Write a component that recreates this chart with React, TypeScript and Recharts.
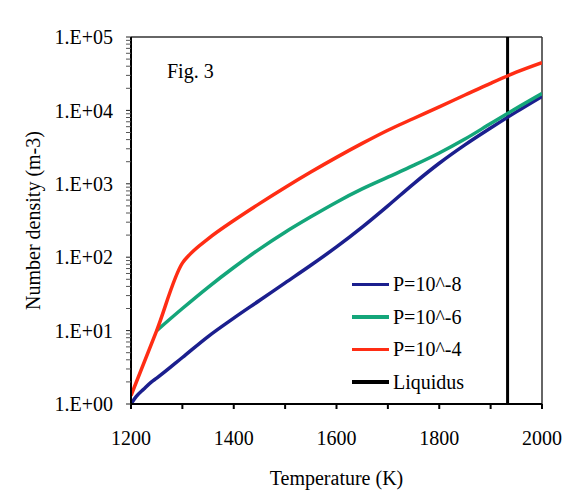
import React from "react";
import { LineChart, Line, XAxis, YAxis, ReferenceLine, Label } from "recharts";

// temperatures (K) and number densities (m-3)
const lowTemps = [1200, 1210, 1225, 1240, 1250, 1300, 1350, 1400, 1450, 1500, 1550, 1600, 1650, 1700, 1750, 1800, 1850, 1900, 1950, 2000];
const lowDensity = [1.0, 1.26, 1.6, 2.0, 2.25, 4.3, 8.3, 14.8, 25.7, 44.7, 77.6, 138, 257, 501, 1000, 1905, 3390, 5750, 9550, 15500];

const midTemps = [1250, 1300, 1350, 1400, 1450, 1500, 1550, 1600, 1650, 1700, 1750, 1800, 1850, 1900, 1950, 2000];
const midDensity = [10, 20, 38.9, 72.4, 129, 219, 355, 562, 851, 1230, 1780, 2630, 4070, 6610, 10700, 17000];

const highTemps = [1200, 1250, 1300, 1315, 1350, 1400, 1450, 1500, 1550, 1600, 1650, 1700, 1750, 1800, 1850, 1900, 1950, 2000];
const highDensity = [1.3, 10, 83, 110, 178, 316, 537, 891, 1445, 2290, 3550, 5370, 7760, 11200, 16200, 23400, 33100, 44700];

const liquidusTemp = 1933;

const seriesNames = ["P=10^-8", "P=10^-6", "P=10^-4", "Liquidus"];
const seriesColors = ["#1b1f8e", "#14a67a", "#ff2d14", "#000000"];

const xTicks = [1200, 1300, 1400, 1500, 1600, 1700, 1800, 1900, 2000];
const xLabels = ["1200", "1400", "1600", "1800", "2000"];
const yMajor = [1, 10, 100, 1000, 10000, 100000];
const yLabels = ["1.E+00", "1.E+01", "1.E+02", "1.E+03", "1.E+04", "1.E+05"];
const minorSteps = [2, 3, 4, 5, 6, 7, 8, 9];

const yTicks: number[] = [];
yMajor.forEach((m, i) => {
  yTicks.push(m);
  if (i < yMajor.length - 1) minorSteps.forEach((s) => yTicks.push(m * s));
});

const zip = (ts: number[], vs: number[]) => ts.map((t, i) => ({ t, v: vs[i] }));
const lowData = zip(lowTemps, lowDensity);
const midData = zip(midTemps, midDensity);
const highData = zip(highTemps, highDensity);

const serif = "serif";
const TICK_MARGIN = 13;
const TICK_LEN = 5;

// y tick: draws its own mark so the minor log ticks always show
function YTick(props: any) {
  const { x, y, payload } = props;
  const i = yMajor.indexOf(payload.value);
  const ax = x + TICK_MARGIN;
  return (
    <g>
      <line x1={ax} x2={ax + TICK_LEN} y1={y} y2={y} stroke={i >= 0 ? "#222" : "#555"} strokeWidth={1} />
      {i >= 0 && (
        <text x={x} y={y} dy="0.355em" textAnchor="end" fontFamily={serif} fontSize={20} fill="#000">
          {yLabels[i]}
        </text>
      )}
    </g>
  );
}

function LegendBox() {
  return (
    <div style={{ position: "absolute", left: 352, top: 268, fontFamily: serif, fontSize: 20, color: "#000" }}>
      {seriesNames.map((name, i) => (
        <div key={name} style={{ display: "flex", alignItems: "center", height: 32.6 }}>
          <div style={{ width: 37, height: 3.5, background: seriesColors[i], marginRight: 4 }} />
          <span style={{ lineHeight: "32.6px" }}>{name}</span>
        </div>
      ))}
    </div>
  );
}

export default function App() {
  return (
    <div style={{ position: "absolute", left: 0, top: 0, width: 581, height: 500, background: "#fff" }}>
      <LineChart width={581} height={500} margin={{ top: 37, right: 39, left: 0, bottom: 6 }}>
        <XAxis
          type="number"
          dataKey="t"
          domain={[1200, 2000]}
          ticks={xTicks}
          interval={0}
          allowDataOverflow
          height={90}
          stroke="#000"
          strokeWidth={2}
          tickSize={5}
          tickMargin={22}
          tick={{ fill: "#000", fontSize: 20, fontFamily: serif }}
          tickFormatter={(v: number) => (xLabels.includes(String(v)) ? String(v) : "")}
        >
          <Label
            value="Temperature (K)"
            position="insideBottom"
            offset={9}
            style={{ fill: "#000", fontSize: 20, fontFamily: serif }}
          />
        </XAxis>
        <YAxis
          type="number"
          dataKey="v"
          scale="log"
          domain={[1, 100000]}
          ticks={yTicks}
          interval={0}
          allowDataOverflow
          width={131}
          stroke="#000"
          strokeWidth={2}
          tickLine={false}
          tickSize={TICK_LEN}
          tickMargin={TICK_MARGIN}
          tick={<YTick />}
        >
          <Label
            value="Number density (m-3)"
            angle={-90}
            position="insideLeft"
            offset={33}
            style={{ textAnchor: "middle", fill: "#000", fontSize: 20, fontFamily: serif }}
          />
        </YAxis>
        <ReferenceLine y={100000} stroke="#333" strokeWidth={1.5} />
        <ReferenceLine x={2000} stroke="#333" strokeWidth={1.5} />
        <ReferenceLine x={liquidusTemp} stroke={seriesColors[3]} strokeWidth={3} />
        <Line data={lowData} dataKey="v" name={seriesNames[0]} type="monotone" stroke={seriesColors[0]} strokeWidth={3.5} dot={false} isAnimationActive={false} />
        <Line data={midData} dataKey="v" name={seriesNames[1]} type="monotone" stroke={seriesColors[1]} strokeWidth={3.5} dot={false} isAnimationActive={false} />
        <Line data={highData} dataKey="v" name={seriesNames[2]} type="monotone" stroke={seriesColors[2]} strokeWidth={3.5} dot={false} isAnimationActive={false} />
        <text x={167} y={78} fontFamily={serif} fontSize={20} fill="#000">
          Fig. 3
        </text>
      </LineChart>
      <LegendBox />
    </div>
  );
}
